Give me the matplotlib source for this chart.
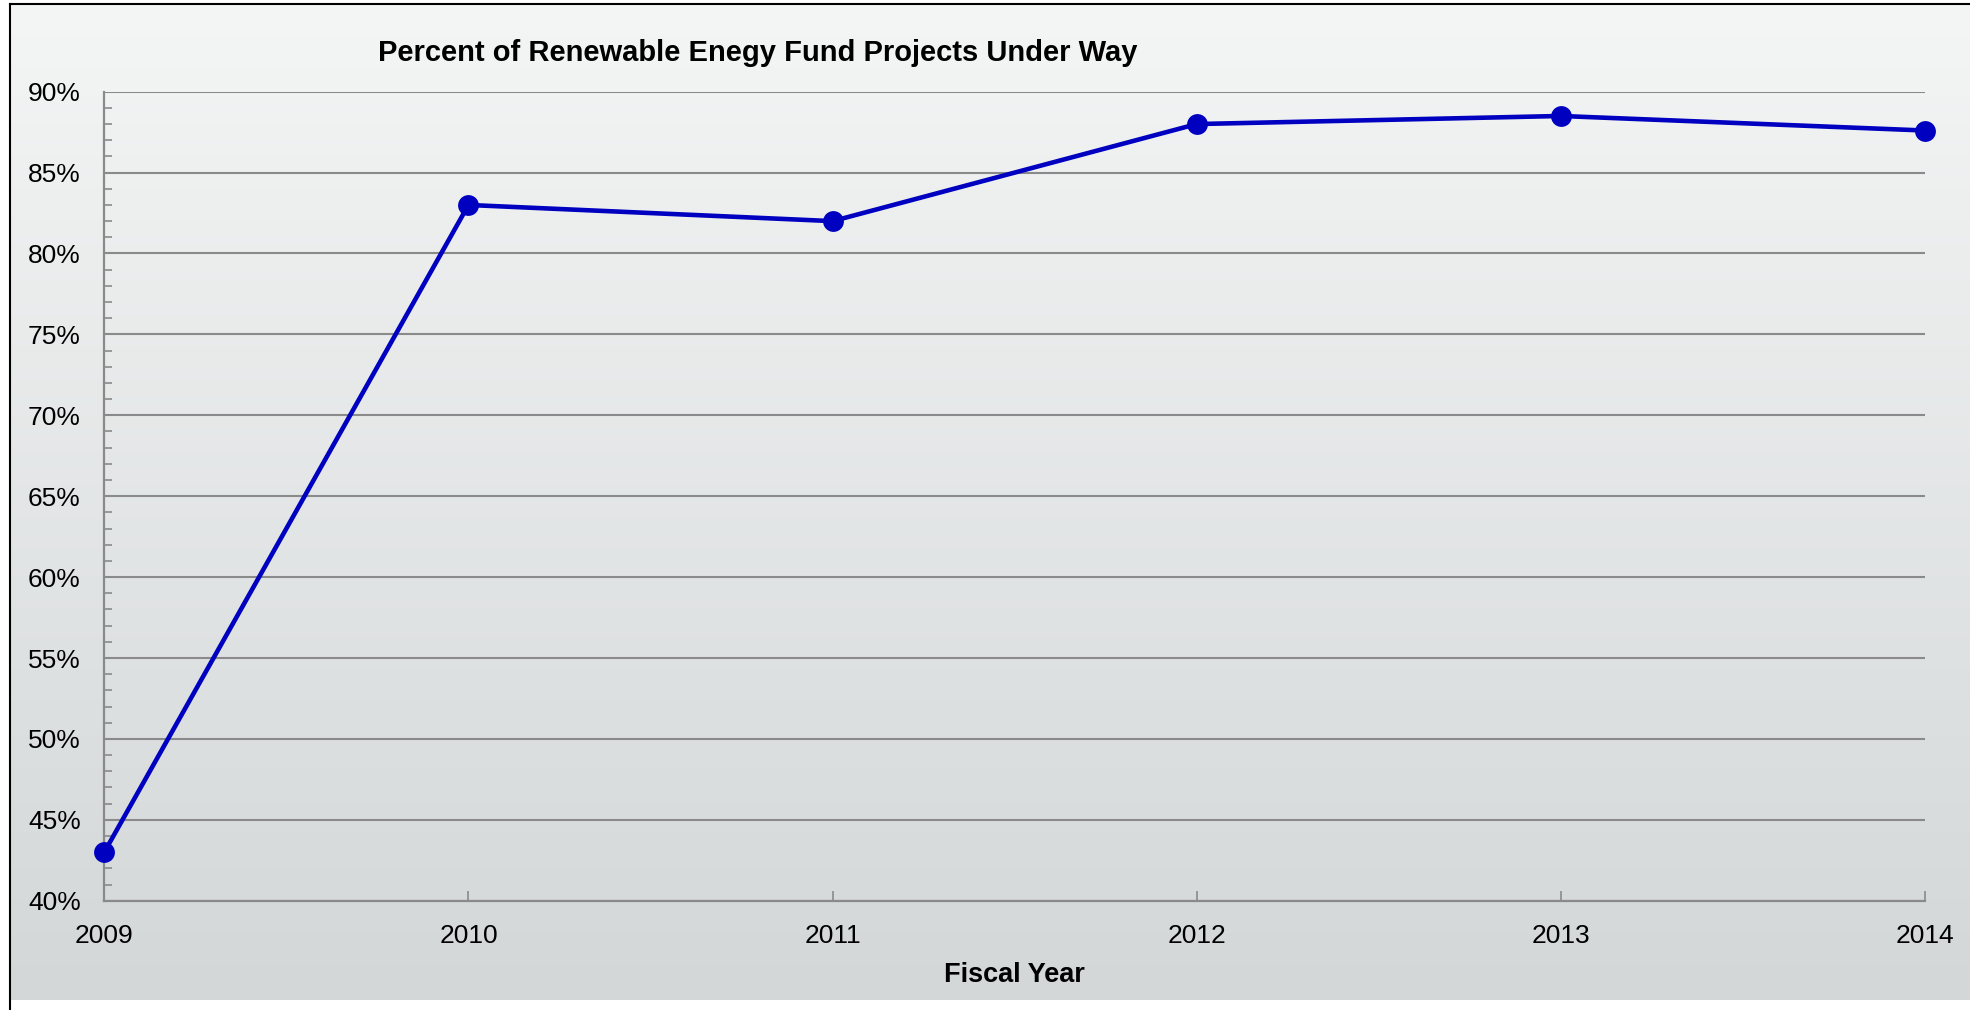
import numpy as np
import matplotlib
matplotlib.use("Agg")
import matplotlib.pyplot as plt
from matplotlib.lines import Line2D
from matplotlib.ticker import MultipleLocator, PercentFormatter

years = [2009, 2010, 2011, 2012, 2013, 2014]
pct_under_way = [43.0, 83.0, 82.0, 88.0, 88.5, 87.6]

title = "Percent of Renewable Enegy Fund Projects Under Way"
xlabel = "Fiscal Year"

plt.rcParams['font.family'] = ['Liberation Sans', 'DejaVu Sans']

W, H = 1970, 1010
fig = plt.figure(figsize=(W / 100, H / 100), dpi=100)
fig.patch.set_facecolor("white")

# gradient background panel
bg = fig.add_axes([10 / W, 10 / H, 1 - 10 / W, 1 - 14 / H], zorder=-5)
top_c = np.array([0xf4, 0xf5, 0xf5]) / 255
bot_c = np.array([0xd3, 0xd7, 0xd8]) / 255
t = np.linspace(0, 1, 256)[:, None]
grad = top_c * (1 - t[..., None]) + bot_c * t[..., None]
grad = np.repeat(grad, 2, axis=1)
bg.imshow(grad, aspect="auto", extent=[0, 1, 0, 1])
bg.axis("off")

# outer frame lines (left and top)
fig.lines.append(Line2D([10 / W, 10 / W], [0, 1 - 4 / H], transform=fig.transFigure,
                        color="black", lw=1.5))
fig.lines.append(Line2D([10 / W, 1], [1 - 4 / H, 1 - 4 / H], transform=fig.transFigure,
                        color="black", lw=1.5))

ax = fig.add_axes([104.3 / W, 1 - 900.7 / H, (1925 - 104.3) / W, (900.7 - 91.7) / H])
ax.set_facecolor("none")

ax.plot(years, pct_under_way, color="#0000C0", lw=3.3, marker="o", ms=15,
        markeredgewidth=0, solid_joinstyle="round", clip_on=False, zorder=5)

ax.set_xlim(2009, 2014)
ax.set_ylim(40, 90)
ax.xaxis.set_major_locator(MultipleLocator(1))
ax.yaxis.set_major_locator(MultipleLocator(5))
ax.yaxis.set_minor_locator(MultipleLocator(1))
ax.yaxis.set_major_formatter(PercentFormatter(decimals=0))

for s in ["top", "right"]:
    ax.spines[s].set_visible(False)
for s in ["left", "bottom"]:
    ax.spines[s].set_color("#8a8a8a")
    ax.spines[s].set_linewidth(1.6)

ax.grid(axis="y", which="major", color="#8a8a8a", lw=1.5)
ax.set_axisbelow(True)

ax.tick_params(axis="y", which="major", length=0, pad=17, labelsize=19)
ax.tick_params(axis="y", which="minor", direction="in", length=6, width=1.2, color="#8a8a8a")
ax.tick_params(axis="x", which="major", direction="in", length=7, width=1.2, color="#8a8a8a",
               pad=17, labelsize=19)

ax.set_xlabel(xlabel, fontsize=19.5, fontweight="bold", labelpad=10)
fig.text(758 / W, 1 - 53 / H, title, fontsize=21, fontweight="bold", ha="center", va="center")

fig.savefig("out.png", dpi=100)
